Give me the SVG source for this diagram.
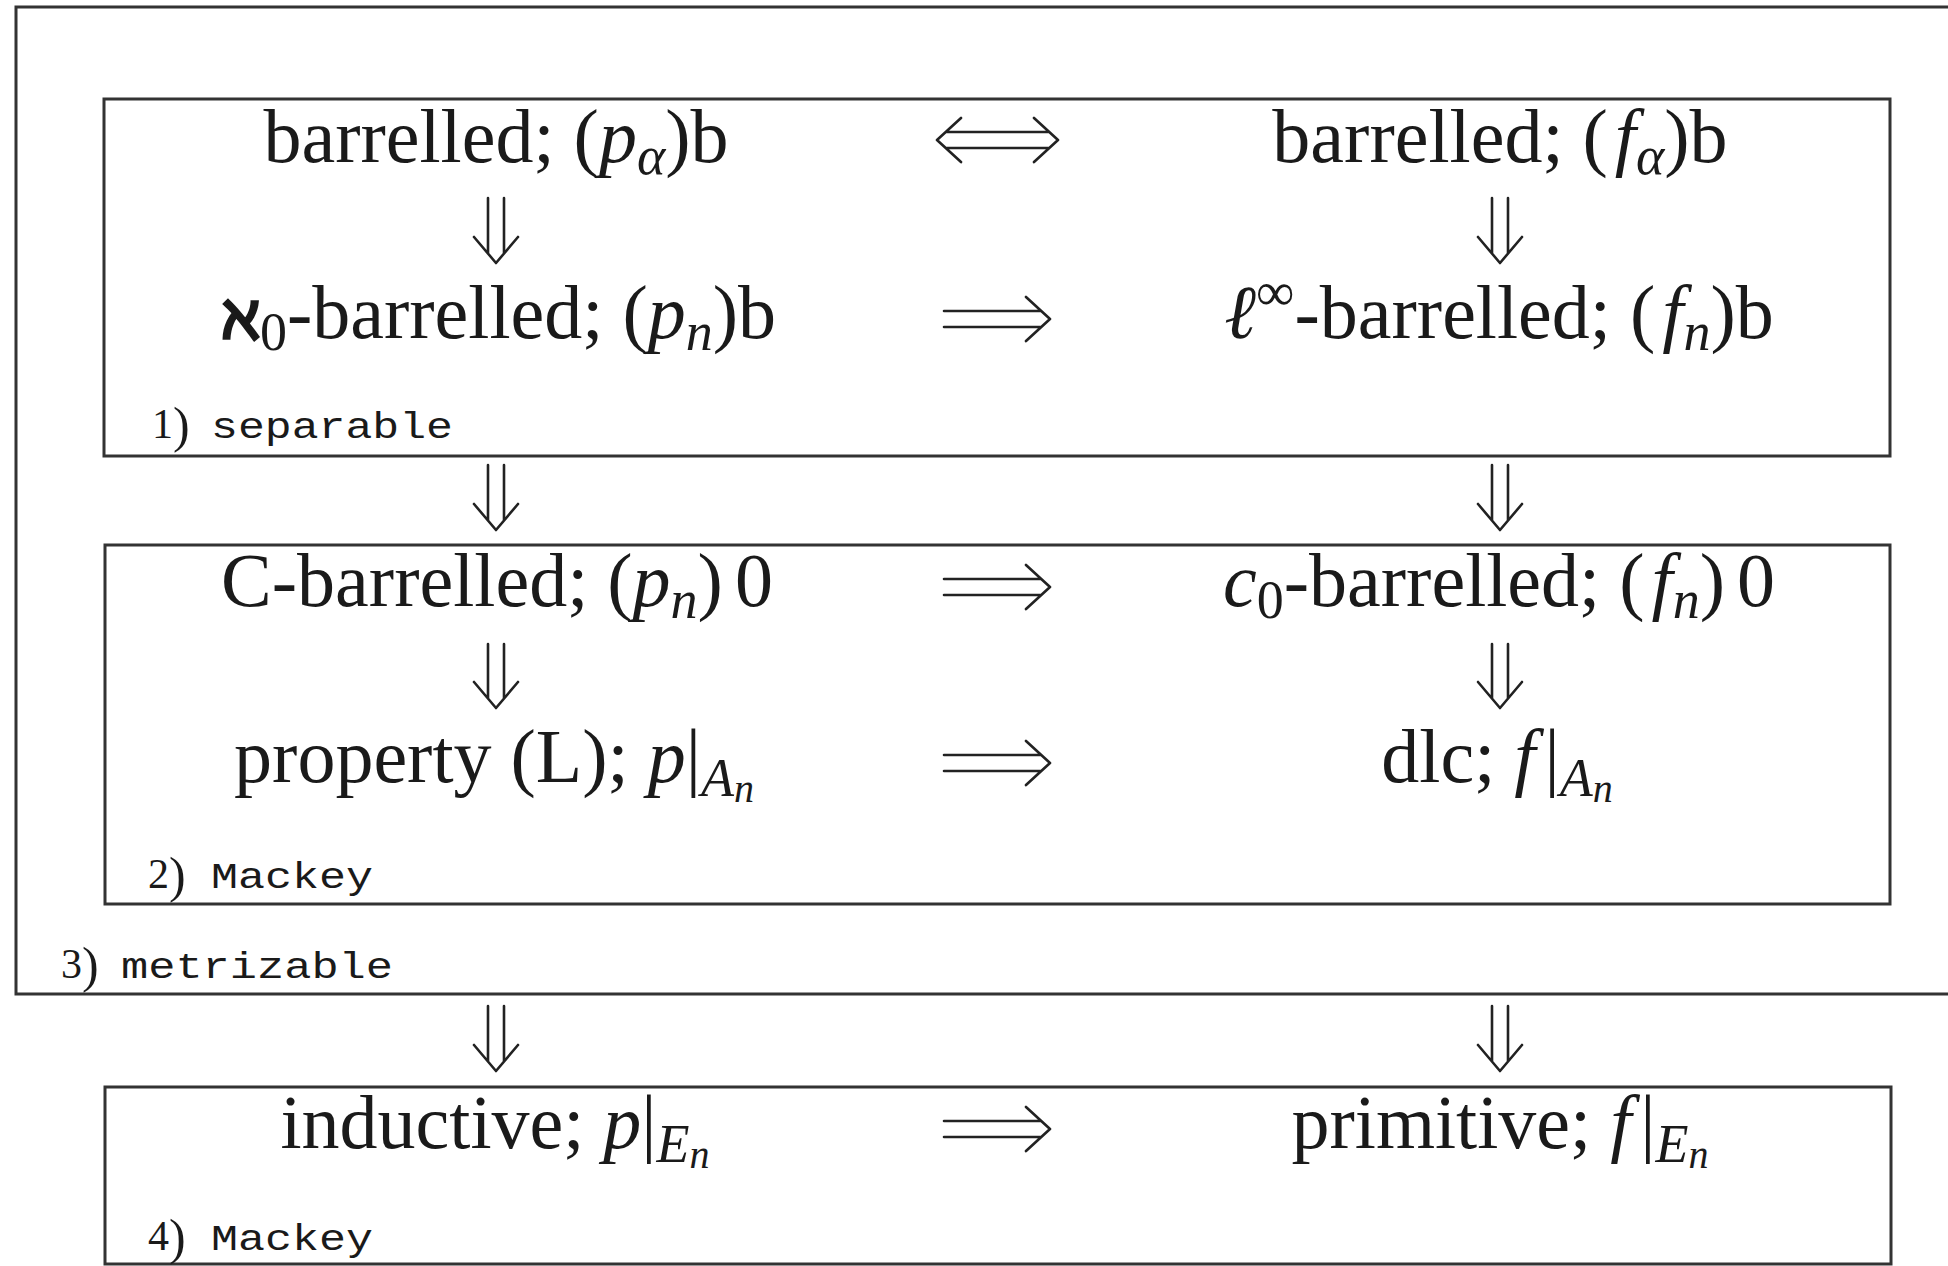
<svg xmlns="http://www.w3.org/2000/svg" width="1948" height="1266" viewBox="0 0 1948 1266">
<style>
.bg{fill:#fff}
.box{fill:none;stroke:#333;stroke-width:3}
.arr{fill:none;stroke:#222;stroke-width:2.6;stroke-linecap:round;stroke-linejoin:round}
.t{font-family:"Liberation Serif","DejaVu Serif",serif;font-size:76px;fill:#1a1a1a;text-anchor:middle}
.i{font-style:italic}
.s{font-size:54px}
.ss{font-size:40px}
.alef{font-family:"DejaVu Serif","Liberation Serif",serif;font-weight:bold;font-size:62px;stroke:#1a1a1a;stroke-width:1.5}
.m{font-family:"Liberation Mono","DejaVu Sans Mono",monospace;font-size:36px;fill:#1a1a1a}
.d{font-family:"Liberation Serif","DejaVu Serif",serif;font-size:42px;fill:#1a1a1a}
</style>
<rect class="bg" x="0" y="0" width="1948" height="1266"/>

<g id="group-metrizable">
  <path class="box" d="M1950,7 H16 V994 H1950"/>
  <text class="d" x="61" y="978">3<tspan font-size="50" dy="4">)</tspan></text>
  <text class="m" x="121" y="978" textLength="272" lengthAdjust="spacingAndGlyphs">metrizable</text>
</g>

<g id="group-separable">
  <rect class="box" x="104" y="99" width="1786" height="357"/>
  <text class="d" x="152" y="438">1<tspan font-size="50" dy="4">)</tspan></text>
  <text class="m" x="211" y="438" textLength="242" lengthAdjust="spacingAndGlyphs">separable</text>
</g>

<g id="group-mackey2">
  <rect class="box" x="105" y="545" width="1785" height="359"/>
  <text class="d" x="148" y="888">2<tspan font-size="50" dy="4">)</tspan></text>
  <text class="m" x="211" y="888" textLength="162" lengthAdjust="spacingAndGlyphs">Mackey</text>
</g>

<g id="group-mackey4">
  <rect class="box" x="105" y="1087" width="1786" height="177"/>
  <text class="d" x="148" y="1250">4<tspan font-size="50" dy="4">)</tspan></text>
  <text class="m" x="211" y="1250" textLength="162" lengthAdjust="spacingAndGlyphs">Mackey</text>
</g>

<g id="n-barrelled-p">
  <text class="t" x="496" y="162">barrelled; (<tspan class="i">p</tspan><tspan class="s i" dy="12">α</tspan><tspan dy="-12">)b</tspan></text>
</g>
<g id="n-barrelled-f">
  <text class="t" x="1500" y="162">barrelled; (<tspan class="i" dx="7">f</tspan><tspan class="s i" dy="12">α</tspan><tspan dy="-12">)b</tspan></text>
</g>
<g id="n-aleph0">
  <text class="t" x="499" y="338"><tspan class="alef">ℵ</tspan><tspan class="s" dy="12">0</tspan><tspan dy="-12">-barrelled; (</tspan><tspan class="i">p</tspan><tspan class="s i" dy="12">n</tspan><tspan dy="-12">)b</tspan></text>
</g>
<g id="n-linf">
  <text class="t" x="1499" y="338"><tspan class="i">ℓ</tspan><tspan class="s" dy="-28">∞</tspan><tspan dy="28">-barrelled; (</tspan><tspan class="i" dx="7">f</tspan><tspan class="s i" dy="12">n</tspan><tspan dy="-12">)b</tspan></text>
</g>
<g id="n-cbarrelled">
  <text class="t" x="497" y="606">C-barrelled; (<tspan class="i">p</tspan><tspan class="s i" dy="12">n</tspan><tspan dy="-12">)</tspan><tspan dx="12">0</tspan></text>
</g>
<g id="n-c0barrelled">
  <text class="t" x="1499" y="606"><tspan class="i">c</tspan><tspan class="s" dy="12">0</tspan><tspan dy="-12">-barrelled; (</tspan><tspan class="i" dx="7">f</tspan><tspan class="s i" dy="12">n</tspan><tspan dy="-12">)</tspan><tspan dx="12">0</tspan></text>
</g>
<g id="n-propertyL">
  <text class="t" x="494" y="782">property (L); <tspan class="i">p</tspan>|<tspan class="s i" dy="14">A</tspan><tspan class="ss i" dy="6">n</tspan></text>
</g>
<g id="n-dlc">
  <text class="t" x="1497" y="782">dlc; <tspan class="i">f</tspan><tspan dx="9">|</tspan><tspan class="s i" dy="14">A</tspan><tspan class="ss i" dy="6">n</tspan></text>
</g>
<g id="n-inductive">
  <text class="t" x="495" y="1148">inductive; <tspan class="i">p</tspan>|<tspan class="s i" dy="14">E</tspan><tspan class="ss i" dy="6">n</tspan></text>
</g>
<g id="n-primitive">
  <text class="t" x="1500" y="1148">primitive; <tspan class="i">f</tspan><tspan dx="9">|</tspan><tspan class="s i" dy="14">E</tspan><tspan class="ss i" dy="6">n</tspan></text>
</g>

<g id="connectors">
  <path class="arr" d="M947,132H1048 M947,148H1048 M961,118L937,140L961,162 M1034,118L1058,140L1034,162"/>
  <path class="arr" d="M944,311H1040 M944,327H1040 M1026,297L1050,319L1026,341"/>
  <path class="arr" d="M944,579H1040 M944,595H1040 M1026,565L1050,587L1026,609"/>
  <path class="arr" d="M944,755H1040 M944,771H1040 M1026,741L1050,763L1026,785"/>
  <path class="arr" d="M944,1121H1040 M944,1137H1040 M1026,1107L1050,1129L1026,1151"/>

  <path class="arr" d="M488,198V253 M504,198V253 M474,237L496,263L518,237"/>
  <path class="arr" d="M1492,198V253 M1508,198V253 M1478,237L1500,263L1522,237"/>
  <path class="arr" d="M488,465V520 M504,465V520 M474,504L496,530L518,504"/>
  <path class="arr" d="M1492,465V520 M1508,465V520 M1478,504L1500,530L1522,504"/>
  <path class="arr" d="M488,644V698 M504,644V698 M474,682L496,708L518,682"/>
  <path class="arr" d="M1492,644V698 M1508,644V698 M1478,682L1500,708L1522,682"/>
  <path class="arr" d="M488,1006V1061 M504,1006V1061 M474,1045L496,1071L518,1045"/>
  <path class="arr" d="M1492,1006V1061 M1508,1006V1061 M1478,1045L1500,1071L1522,1045"/>
</g>
</svg>
